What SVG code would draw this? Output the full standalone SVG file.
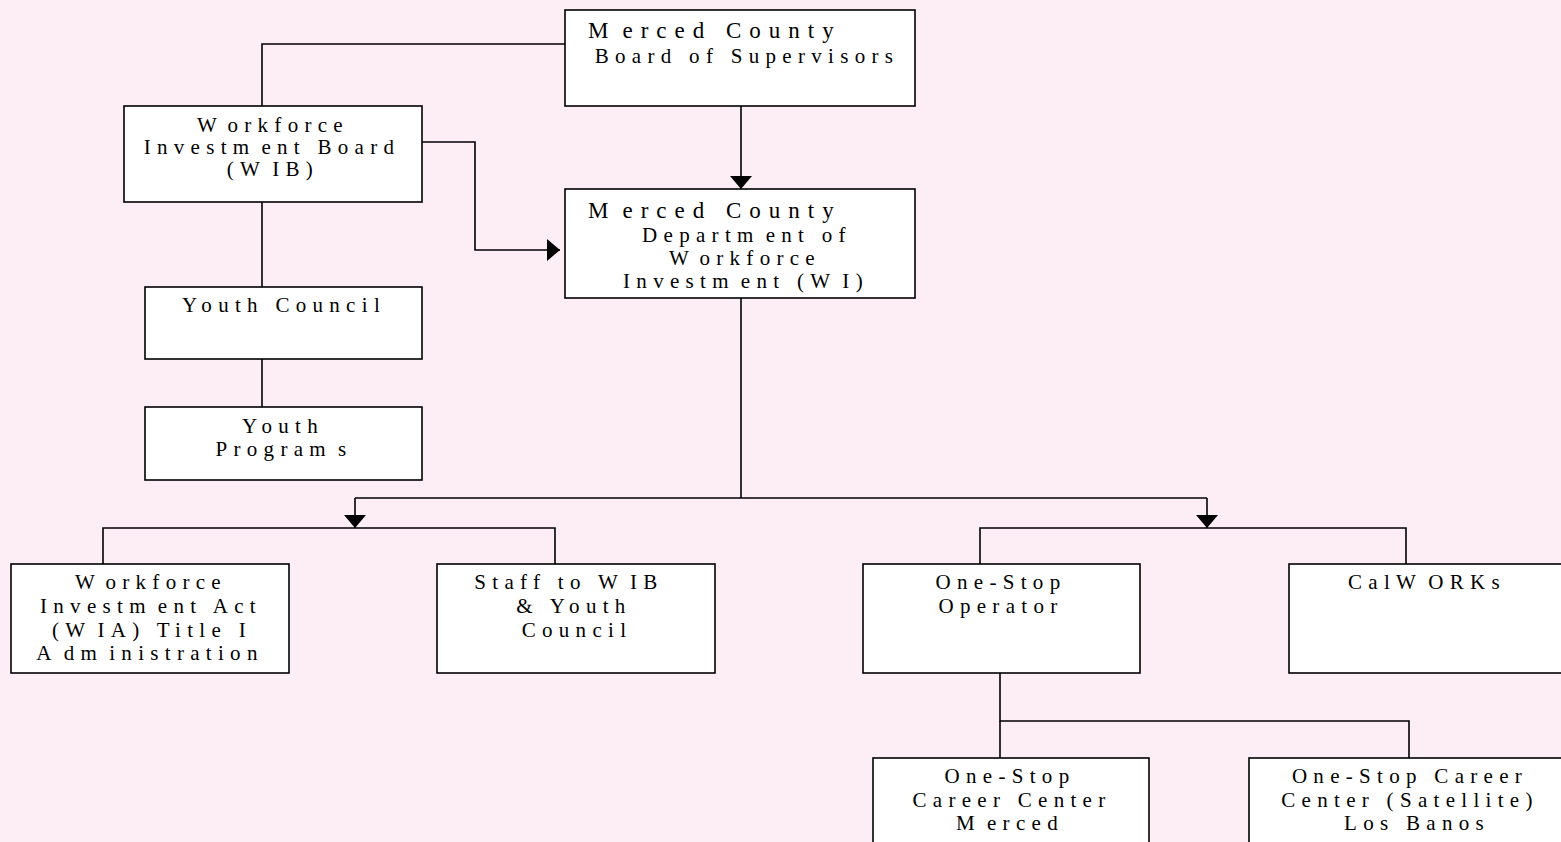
<svg xmlns="http://www.w3.org/2000/svg" width="1561" height="842" viewBox="0 0 1561 842">
<style>
.box{fill:#fff;stroke:#000;stroke-width:1.6}
.ln{fill:none;stroke:#000;stroke-width:1.6}
text{font-family:"Liberation Serif","Times New Roman",serif;font-size:21px;letter-spacing:6.3px;fill:#000;text-anchor:middle}
.t{font-size:23px;letter-spacing:8px;text-anchor:start}
</style>
<defs>
<marker id="ah" markerUnits="userSpaceOnUse" markerWidth="14" markerHeight="22" refX="13" refY="11" orient="auto">
<path d="M0,0 L13,11 L0,22 z" fill="#000"/>
</marker>
</defs>
<rect width="1561" height="842" fill="#fdeef5"/>
<g id="connectors">
<polyline class="ln" points="565,44 262,44 262,106"/>
<polyline class="ln" points="422,142 475,142 475,250 560,250" marker-end="url(#ah)"/>
<line class="ln" x1="741" y1="106" x2="741" y2="189" marker-end="url(#ah)"/>
<line class="ln" x1="262" y1="202" x2="262" y2="287"/>
<line class="ln" x1="262" y1="359" x2="262" y2="407"/>
<polyline class="ln" points="741,298 741,498"/>
<line class="ln" x1="355" y1="498" x2="1207" y2="498"/>
<line class="ln" x1="355" y1="498" x2="355" y2="528" marker-end="url(#ah)"/>
<line class="ln" x1="1207" y1="498" x2="1207" y2="528" marker-end="url(#ah)"/>
<polyline class="ln" points="103,564 103,528 555,528 555,564"/>
<polyline class="ln" points="980,564 980,528 1406,528 1406,564"/>
<polyline class="ln" points="1000,673 1000,721 1409,721 1409,758"/>
<line class="ln" x1="1000" y1="721" x2="1000" y2="758"/>
</g>
<g id="board">
<rect class="box" x="565" y="10" width="350" height="96"/>
<text class="t" x="588" y="38">M<tspan dx="6">erced County</tspan></text>
<text x="747" y="63">Board of Supervisors</text>
</g>
<g id="wib">
<rect class="box" x="124" y="106" width="298" height="96"/>
<text x="273" y="132">W<tspan dx="6">orkforce</tspan></text>
<text x="272" y="154">Investm<tspan dx="6">ent Board</tspan></text>
<text x="273" y="176">(W<tspan dx="6">IB)</tspan></text>
</g>
<g id="dept">
<rect class="box" x="565" y="189" width="350" height="109"/>
<text class="t" x="588" y="218">M<tspan dx="6">erced County</tspan></text>
<text x="747" y="242">Departm<tspan dx="6">ent of</tspan></text>
<text x="745" y="265">W<tspan dx="6">orkforce</tspan></text>
<text x="746" y="288">Investm<tspan dx="6">ent (W</tspan><tspan dx="6">I)</tspan></text>
</g>
<g id="youth-council">
<rect class="box" x="145" y="287" width="277" height="72"/>
<text x="284" y="312">Youth Council</text>
</g>
<g id="youth-programs">
<rect class="box" x="145" y="407" width="277" height="73"/>
<text x="283" y="433">Youth</text>
<text x="284" y="456">Program<tspan dx="6">s</tspan></text>
</g>
<g id="wia">
<rect class="box" x="11" y="564" width="278" height="109"/>
<text x="151" y="589">W<tspan dx="6">orkforce</tspan></text>
<text x="151" y="613">Investm<tspan dx="6">ent Act</tspan></text>
<text x="152" y="637">(W<tspan dx="6">IA) Title I</tspan></text>
<text x="150" y="660">A<tspan dx="6">dm</tspan><tspan dx="6">inistration</tspan></text>
</g>
<g id="staff">
<rect class="box" x="437" y="564" width="278" height="109"/>
<text x="569" y="589">Staff to W<tspan dx="6">IB</tspan></text>
<text x="574" y="613">&amp; Youth</text>
<text x="577" y="637">Council</text>
</g>
<g id="operator">
<rect class="box" x="863" y="564" width="277" height="109"/>
<text x="1001" y="589">One-Stop</text>
<text x="1001" y="613">Operator</text>
</g>
<g id="calworks">
<rect class="box" x="1289" y="564" width="280" height="109"/>
<text x="1427" y="589">CalW<tspan dx="6">ORKs</tspan></text>
</g>
<g id="merced-center">
<rect class="box" x="873" y="758" width="276" height="100"/>
<text x="1010" y="783">One-Stop</text>
<text x="1012" y="807">Career Center</text>
<text x="1010" y="830">M<tspan dx="6">erced</tspan></text>
</g>
<g id="satellite">
<rect class="box" x="1249" y="758" width="320" height="100"/>
<text x="1410" y="783">One-Stop Career</text>
<text x="1410" y="807">Center (Satellite)</text>
<text x="1417" y="830">Los Banos</text>
</g>
</svg>
